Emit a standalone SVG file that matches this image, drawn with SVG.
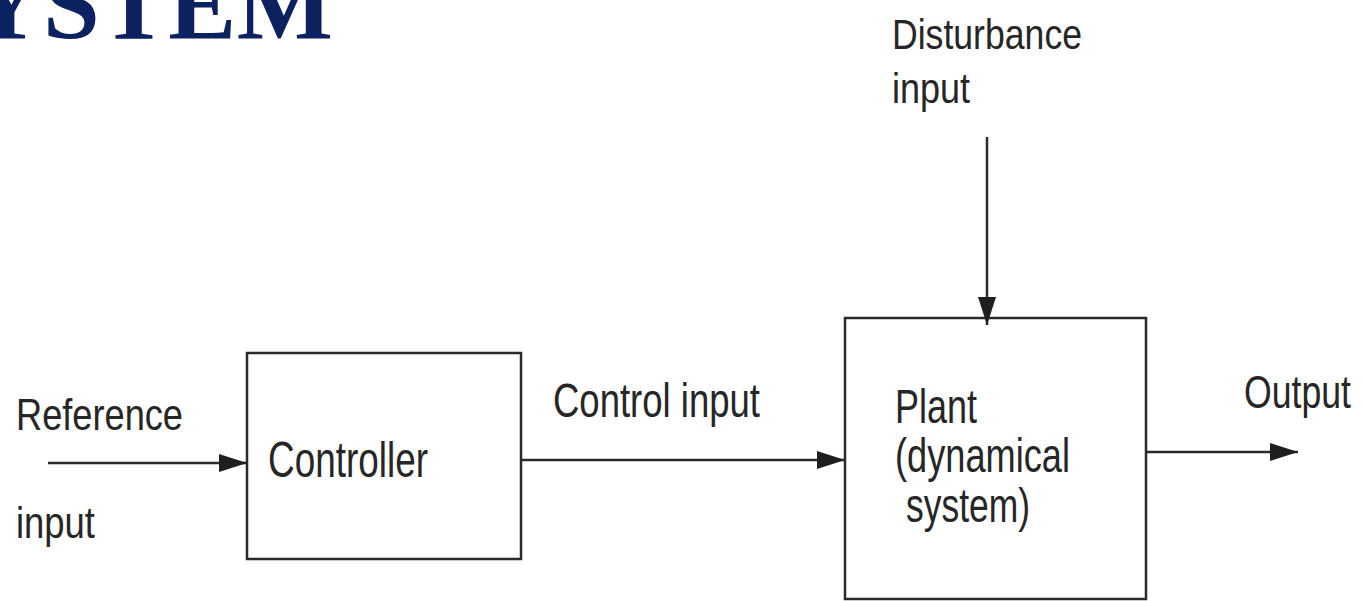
<svg xmlns="http://www.w3.org/2000/svg" width="1363" height="601" viewBox="0 0 1363 601">
<style>
.t{font-family:"Liberation Sans",Arial,sans-serif;fill:#262626}
.box{fill:none;stroke:#2a2a2a;stroke-width:2.5}
.ln{stroke:#2a2a2a;stroke-width:2.5;fill:none}
.title{font-family:"Liberation Serif","Times New Roman",serif;font-weight:bold;fill:#0b2160}
</style>
<defs>
<marker id="ah" markerUnits="userSpaceOnUse" markerWidth="30" markerHeight="20" refX="28" refY="9" orient="auto">
<path d="M0,0 L28,9 L0,18 Z" fill="#1e1e1e"/>
</marker>
</defs>
<rect width="1363" height="601" fill="#ffffff"/>
<text class="title" x="-31" y="39" font-size="102" textLength="364" lengthAdjust="spacing">YSTEM</text>
<g id="controller">
<rect class="box" x="247" y="353" width="274" height="206"/>
<text class="t" x="268" y="477" font-size="50" textLength="160" lengthAdjust="spacingAndGlyphs">Controller</text>
</g>
<g id="plant">
<rect class="box" x="845" y="318" width="301" height="281"/>
<text class="t" x="895" y="423" font-size="49" textLength="82" lengthAdjust="spacingAndGlyphs">Plant</text>
<text class="t" x="895" y="472" font-size="49" textLength="175" lengthAdjust="spacingAndGlyphs">(dynamical</text>
<text class="t" x="906" y="522" font-size="49" textLength="124" lengthAdjust="spacingAndGlyphs">system)</text>
</g>
<g id="labels">
<text class="t" x="16" y="430" font-size="45" textLength="167" lengthAdjust="spacingAndGlyphs">Reference</text>
<text class="t" x="16" y="538" font-size="45" textLength="79" lengthAdjust="spacingAndGlyphs">input</text>
<text class="t" x="553" y="417" font-size="48" textLength="207" lengthAdjust="spacingAndGlyphs">Control input</text>
<text class="t" x="892" y="49" font-size="43" textLength="190" lengthAdjust="spacingAndGlyphs">Disturbance</text>
<text class="t" x="892" y="103" font-size="43" textLength="78" lengthAdjust="spacingAndGlyphs">input</text>
<text class="t" x="1244" y="408" font-size="46" textLength="107" lengthAdjust="spacingAndGlyphs">Output</text>
</g>
<g id="connectors">
<line class="ln" x1="48" y1="463" x2="247" y2="463" marker-end="url(#ah)"/>
<line class="ln" x1="521" y1="460" x2="845" y2="460" marker-end="url(#ah)"/>
<line class="ln" x1="987" y1="137" x2="987" y2="325" marker-end="url(#ah)"/>
<line class="ln" x1="1146" y1="452" x2="1298" y2="452" marker-end="url(#ah)"/>
</g>
</svg>
